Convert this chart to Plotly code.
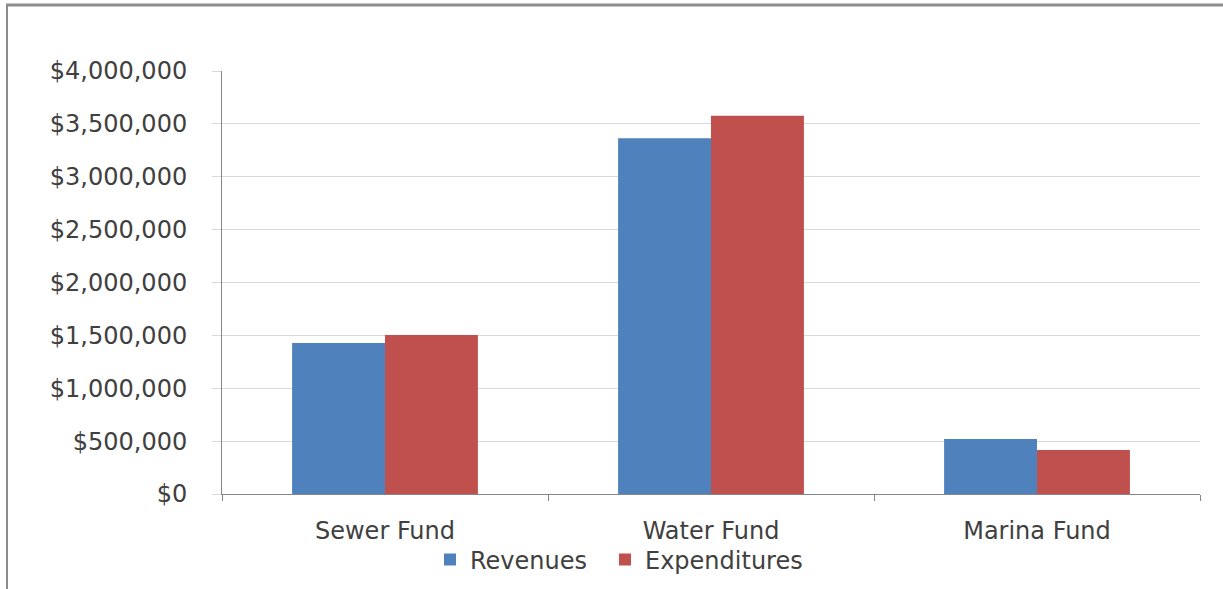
import plotly.graph_objects as go

# Enterprise fund totals (USD)
funds = ["Sewer Fund", "Water Fund", "Marina Fund"]
revenues = [1428000, 3364000, 520000]
expenditures = [1503000, 3577000, 416000]
y_ticks = [0, 500000, 1000000, 1500000, 2000000, 2500000, 3000000, 3500000, 4000000]
y_tick_labels = ["$0", "$500,000", "$1,000,000", "$1,500,000", "$2,000,000",
                 "$2,500,000", "$3,000,000", "$3,500,000", "$4,000,000"]

W, H = 1223, 589
L, R, T, B = 222, 23, 71, 95
pw, ph = W - L - R, H - T - B


def px_x(px):
    return (px - L) / pw


def px_y(py):
    return (H - B - py) / ph


font = dict(family="DejaVu Sans", size=24, color="#404040")

fig = go.Figure()
fig.add_trace(go.Bar(name="Revenues", x=funds, y=revenues, legend="legend",
                     marker=dict(color="#4F81BD", line=dict(width=0))))
fig.add_trace(go.Bar(name="Expenditures", x=funds, y=expenditures, legend="legend2",
                     marker=dict(color="#C0504D", line=dict(width=0))))

# outer frame (top and left edges)
frame = "#8c8c8c"
fig.add_shape(type="line", xref="paper", yref="paper",
              x0=px_x(6), x1=px_x(W + 5), y0=px_y(5), y1=px_y(5),
              line=dict(color=frame, width=3))
fig.add_shape(type="line", xref="paper", yref="paper",
              x0=px_x(7), x1=px_x(7), y0=px_y(5), y1=px_y(H + 5),
              line=dict(color=frame, width=2))

legend_style = dict(orientation="h", xanchor="left", y=px_y(560), yanchor="middle",
                    font=font, bgcolor="rgba(0,0,0,0)", itemwidth=30)

fig.update_layout(
    width=W, height=H,
    margin=dict(l=L, r=R, t=T, b=B, autoexpand=False),
    paper_bgcolor="white", plot_bgcolor="white",
    barmode="group", bargap=0.43, bargroupgap=0,
    font=font,
    showlegend=True,
    legend=dict(x=px_x(430), **legend_style),
    legend2=dict(x=px_x(605), **legend_style),
    xaxis=dict(showgrid=False, showline=True, linecolor="#868686", linewidth=1,
               ticks="outside", tickson="boundaries", ticklen=6, tickcolor="#868686",
               ticklabelstandoff=15, tickfont=font),
    yaxis=dict(range=[0, 4000000], tickvals=y_ticks, ticktext=y_tick_labels,
               showgrid=True, gridcolor="#d9d9d9", gridwidth=1,
               showline=True, linecolor="#868686", linewidth=1,
               ticks="outside", ticklen=9, tickcolor="#d9d9d9",
               ticklabelstandoff=20, tickfont=font, zeroline=False),
)

fig.write_html("out.html")
